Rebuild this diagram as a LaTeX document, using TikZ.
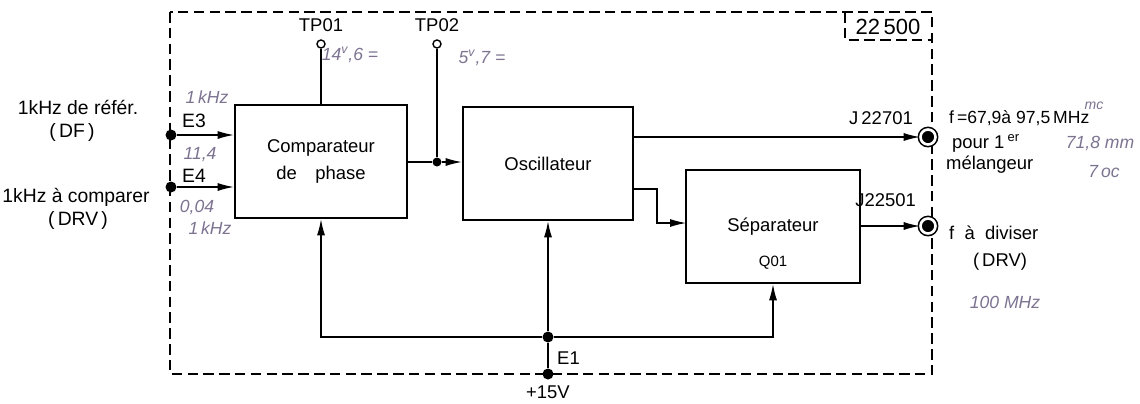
\documentclass[tikz,border=0pt]{standalone}
\usepackage{fontspec}
\setmainfont{Liberation Sans}
\usetikzlibrary{arrows.meta}

\definecolor{handc}{RGB}{125,115,145}

\tikzset{
  blk/.style={draw, line width=1.6pt, minimum width=3.4cm, minimum height=2.26cm,
    align=center, font=\fontsize{10.5}{15}\selectfont},
  arr/.style={-{Latex[length=3.2mm,width=1.6mm]}, line width=0.6pt},
  wire/.style={line width=0.6pt},
  dot/.style={circle, fill, inner sep=0pt, minimum size=0.22cm},
  tp/.style={circle, draw, fill=white, line width=0.8pt, inner sep=0pt, minimum size=0.16cm},
  jack/.style={circle, draw, fill=black, double=white, double distance=1.5pt,
    line width=0.9pt, inner sep=0pt, minimum size=0.3cm},
  lbl/.style={font=\fontsize{10.5}{13}\selectfont},
  side/.style={font=\fontsize{11}{14}\selectfont},
  hand/.style={font=\itshape\fontsize{10}{12}\selectfont, text=handc},
  frame/.style={dash pattern=on 6pt off 3pt, line width=0.6pt}
}

\begin{document}
\begin{tikzpicture}[x=0.02cm, y=-0.02cm]

  \useasboundingbox (0,0) rectangle (1140,403);

  %% ---- board outline ----
  \draw[frame] (170,12) rectangle (932,374);
  \draw[frame] (845,12) |- (932,40);
  \node[lbl, font=\fontsize{12.5}{14}\selectfont] (boardno) at (888,27) {22\,500};

  %% ---- blocks ----
  \node[blk, minimum width=3.44cm] (comp) at (321,161.5) {Comparateur\\de\quad phase};
  \node[blk] (osc) at (548,163.5) {Oscillateur};
  \node[blk, minimum width=3.48cm] (sep) at (773,226.5) {S\'eparateur};
  \node[lbl, font=\fontsize{8.5}{10}\selectfont, anchor=south, yshift=5pt] (q01) at (sep.south) {Q01};

  %% ---- inputs E3 / E4 ----
  \node[dot] (e3) at (171,135) {};
  \node[dot] (e4) at (171,187) {};
  \draw[arr] (e3) -- (e3 -| comp.west);
  \draw[arr] (e4) -- (e4 -| comp.west);
  \node[side, anchor=west] (e3lbl) at (176,121) {E3};
  \node[side, anchor=west] (e4lbl) at (176,176) {E4};

  \node[side] (refin) at (78,107) {1kHz de r\'ef\'er.};
  \node[side] (refdf) at (72,132) {(\,DF\,)};
  \node[side] (cmpin) at (76,197) {1kHz \`a comparer};
  \node[side] (cmpdrv) at (78,220) {(\,DRV\,)};

  %% ---- test points ----
  \node[tp] (tp1) at (321,44) {};
  \node[lbl, anchor=south, yshift=1pt] (tp1lbl) at (tp1.north) {TP01};
  \draw[wire] (tp1) -- (tp1 |- comp.north);

  \node[tp] (tp2) at (437,44) {};
  \node[lbl, anchor=south, yshift=1pt] (tp2lbl) at (tp2.north) {TP02};
  \node[dot, minimum size=0.18cm] (tp2j) at (437,162) {};
  \draw[wire] (tp2) -- (tp2j);
  \draw[wire] (comp.east |- tp2j) -- (tp2j);
  \draw[arr] (tp2j) -- (tp2j -| osc.west);

  %% ---- outputs ----
  \node[jack] (j1) at (928,137) {};
  \draw[arr] (osc.east |- j1) -- (j1);
  \node[jack] (j2) at (928,226) {};
  \draw[arr] (sep.east |- j2) -- (j2);

  \coordinate (bend) at (657,189);
  \coordinate (sepin) at (686,223);
  \draw[arr] (osc.east |- bend) -- (bend) |- (sepin);

  \node[lbl, anchor=east] (j1lbl) at (919,118) {J\,22701};
  \node[lbl, anchor=east] (j2lbl) at (922,200) {J22501};
  \node[lbl, font=\fontsize{10}{12}\selectfont, anchor=west] (j1f) at (943,118) {f\,=67,9\`a 97,5\,MHz};
  \node[lbl, anchor=west] (j1pour) at (946,143) {pour 1\,\textsuperscript{er}};
  \node[lbl, anchor=west] (j1mel) at (940,165) {m\'elangeur};
  \node[lbl, anchor=west] (j2f) at (943,233) {f\;\;\`a\;\;diviser};
  \node[lbl] (j2drv) at (1000,262) {(\,DRV)};

  %% ---- supply ----
  \node[dot] (e1) at (548,337) {};
  \node[dot] (vin) at (548,374) {};
  \draw[wire] (vin) -- (e1);
  \draw[arr] (e1) -- (osc.south);
  \draw[arr] (e1) -| (comp.south);
  \draw[arr] (e1) -| (sep.south);
  \node[lbl, anchor=west] (e1lbl) at (551,358) {E1};
  \node[lbl] (vlbl) at (548,392) {+15V};

  %% ---- pencil notes ----
  \node[hand] (n1) at (207,97) {1\,kHz};
  \node[hand] (n2) at (200,155) {11,4};
  \node[hand] (n3) at (197,207) {0,04};
  \node[hand] (n4) at (210,228) {1\,kHz};
  \node[hand] (n5) at (350,55) {14\textsuperscript{v},6 =};
  \node[hand] (n6) at (482,58) {5\textsuperscript{v},7 =};
  \node[hand] (n7) at (1005,302) {100 MHz};
  \node[hand, font=\itshape\fontsize{8}{10}\selectfont] (n8) at (1094,106) {mc};
  \node[hand] (n9) at (1100,143) {71,8 mm};
  \node[hand] (n10) at (1104,172) {7\,oc};

\end{tikzpicture}
\end{document}
